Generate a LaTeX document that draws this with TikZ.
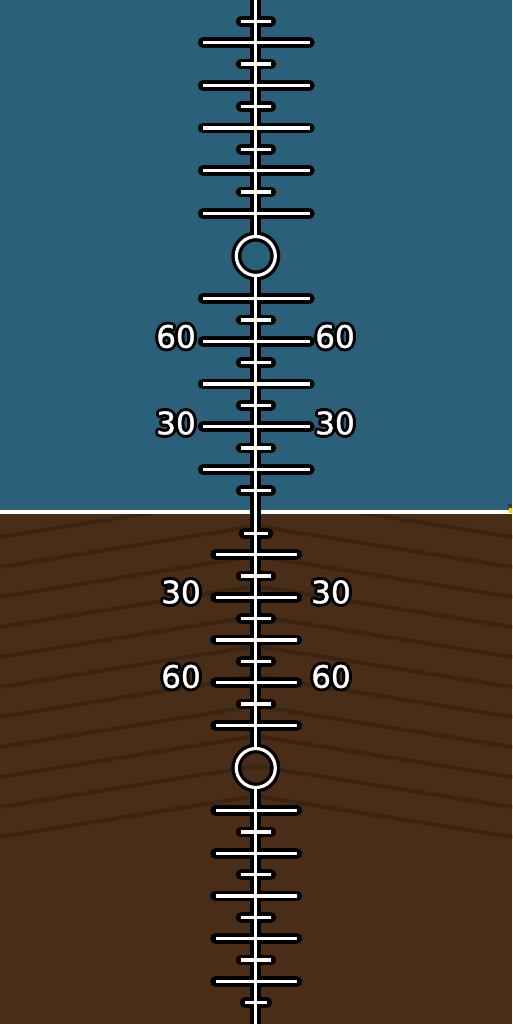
\documentclass[tikz,border=0pt]{standalone}
\usepackage{fontspec}
\setmainfont{DejaVu Sans}
\newfontfamily\lblfont[FakeBold=1.2]{DejaVu Sans}
\definecolor{skyc}{RGB}{42,96,121}
\definecolor{groundc}{RGB}{74,45,22}
\definecolor{stripec}{RGB}{59,36,16}
\definecolor{markyel}{RGB}{250,204,0}
\definecolor{markgray}{RGB}{60,60,60}
\tikzset{
  outl/.style={black,line width=10.5pt,line cap=round},
  inl/.style={white,line width=3.4pt,line cap=butt},
  spineout/.style={black,line width=11pt,line cap=butt},
  spinein/.style={white,line width=3.8pt,line cap=butt},
  stripe/.style={stripec,line width=4pt},
  lbl/.style={font=\lblfont\fontsize{31}{31}\selectfont,inner sep=0pt,anchor=center},
}
\newcommand\pitchlabel[3]{%
  \foreach \a in {0,22.5,...,337.5}{\node[lbl,text=black,shift={(\a:2.9)}] at #2 {#3};}
  \node[lbl,text=white] (#1) at #2 {#3};}
\begin{document}
\begin{tikzpicture}[x=1pt,y=-1pt]
\useasboundingbox (0,0) rectangle (512,1024);
\def\H{42.667}
\fill[skyc] (0,0) rectangle (512,512);
\fill[groundc] (0,512) rectangle (512,1024);
\begin{scope}
  \clip (0,514) rectangle (512,1024);
  \foreach \k in {0,...,10}{
    \draw[stripe] (-10,{538.6+30*\k}) -- (256,{496+30*\k}) -- (522,{538.6+30*\k});
  }
\end{scope}
\draw[white,line width=4pt] (0,512) -- (512,512);
\fill[markgray] (507.5,504) rectangle (512,507.5);
\fill[markyel] (508.5,507.5) rectangle (512,512.5);
\coordinate (cs) at (255.8,256);
\coordinate (cg) at (255.8,768);
% ---------- black outline layer ----------
\draw[spineout] (255.5,-5) -- (255.5,237);
\draw[spineout] (255.5,275) -- (255.5,749);
\draw[spineout] (255.5,787) -- (255.5,1030);
\draw[black,line width=10pt] (cs) circle[radius=19.5];
\draw[black,line width=10pt] (cg) circle[radius=19.5];
\foreach \n in {1,2,3,4,5,7,8,9,10,11}{
  \draw[outl] (203,{512-\n*\H}) -- (309.5,{512-\n*\H});
  \draw[outl] (215.5,{512+\n*\H}) -- (297,{512+\n*\H});
}
\foreach \n/\hw in {0.5/15,1.5/15,2.5/15,3.5/15,4.5/15,7.5/15,8.5/15,9.5/15,10.5/15,11.5/15}{
  \draw[outl] ({256-\hw},{512-\n*\H}) -- ({256+\hw},{512-\n*\H});
}
\foreach \n/\hw in {0.5/12,1.5/15,2.5/15,3.5/15,4.5/15,7.5/15,8.5/15,9.5/15,10.5/15,11.5/11}{
  \draw[outl] ({256-\hw},{512+\n*\H}) -- ({256+\hw},{512+\n*\H});
}
% ---------- white layer ----------
\draw[spinein] (255.5,-5) -- (255.5,237);
\draw[spinein] (255.5,275) -- (255.5,749);
\draw[spinein] (255.5,787) -- (255.5,1030);
\draw[white,line width=3.2pt] (cs) circle[radius=19.5];
\draw[white,line width=3.2pt] (cg) circle[radius=19.5];
\foreach \n in {1,2,3,4,5,7,8,9,10,11}{
  \draw[inl] (203,{512-\n*\H}) -- (309.5,{512-\n*\H});
  \draw[inl] (215.5,{512+\n*\H}) -- (297,{512+\n*\H});
}
\foreach \n/\hw in {0.5/15,1.5/15,2.5/15,3.5/15,4.5/15,7.5/15,8.5/15,9.5/15,10.5/15,11.5/15}{
  \draw[inl] ({256-\hw},{512-\n*\H}) -- ({256+\hw},{512-\n*\H});
}
\foreach \n/\hw in {0.5/12,1.5/15,2.5/15,3.5/15,4.5/15,7.5/15,8.5/15,9.5/15,10.5/15,11.5/11}{
  \draw[inl] ({256-\hw},{512+\n*\H}) -- ({256+\hw},{512+\n*\H});
}
% ---------- labels ----------
\pitchlabel{s60l}{(176,336.5)}{60}
\pitchlabel{s60r}{(335,336.5)}{60}
\pitchlabel{s30l}{(176,423)}{30}
\pitchlabel{s30r}{(335,423)}{30}
\pitchlabel{g30l}{(181,592)}{30}
\pitchlabel{g30r}{(331,592)}{30}
\pitchlabel{g60l}{(181,676.5)}{60}
\pitchlabel{g60r}{(331,676.5)}{60}
\end{tikzpicture}
\end{document}
